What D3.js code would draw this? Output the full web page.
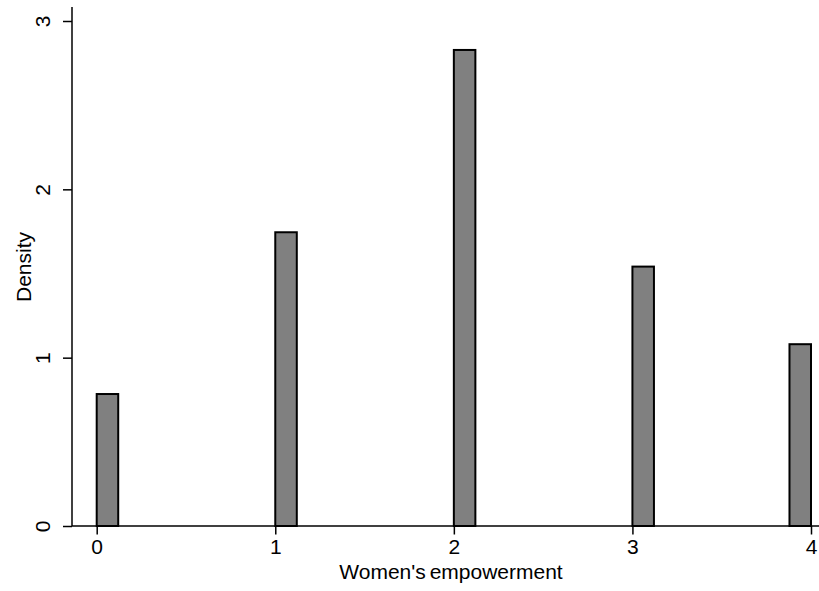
<!DOCTYPE html>
<html>
<head>
<meta charset="utf-8">
<script src="https://cdn.jsdelivr.net/npm/d3@7"></script>
<style>
  html, body { margin: 0; padding: 0; background: #fff; }
  svg { display: block; }
  text { font-family: "Liberation Sans", Arial, Helvetica, sans-serif; fill: #000; }
</style>
</head>
<body>
<svg id="chart" width="819" height="591"></svg>
<script>
// Data
const binStarts = [0, 1, 2, 3, 3.8795];
const densities = [0.784, 1.745, 2.828, 1.541, 1.080];
const binWidth = 0.1205;
const xTicks = [0, 1, 2, 3, 4];
const yTicks = [0, 1, 2, 3];
const xTitle = "Women's empowerment";
const yTitle = "Density";

const svg = d3.select("#chart");
const W = 819, H = 591;
const FS = 21;

const x = d3.scaleLinear().domain([0, 4]).range([96.7, 811]);
const y = d3.scaleLinear().domain([0, 3]).range([526, 21]);

const axisLeftX = 72, axisBottomY = 526;

// Bars
const bins = binStarts.map((s, i) => ({ x0: s, x1: s + binWidth, v: densities[i] }));
svg.append("g").selectAll("rect").data(bins).join("rect")
  .attr("x", d => x(d.x0))
  .attr("y", d => y(d.v))
  .attr("width", d => x(d.x1) - x(d.x0))
  .attr("height", d => y(0) - y(d.v))
  .attr("fill", "#808080")
  .attr("stroke", "#000")
  .attr("stroke-width", 2);

// X axis
const gx = svg.append("g").attr("transform", `translate(0,${axisBottomY})`);
gx.call(d3.axisBottom(x).tickValues(xTicks).tickFormat(d3.format("d")).tickSize(8.5).tickPadding(5));
gx.select(".domain").remove();
gx.selectAll(".tick line").attr("stroke", "#000").attr("stroke-width", 1.5);
gx.selectAll(".tick text").attr("font-size", FS).attr("font-family", "Liberation Sans, Arial, sans-serif").attr("fill", "#000");
gx.append("line").attr("x1", axisLeftX).attr("x2", W).attr("y1", 0).attr("y2", 0)
  .attr("stroke", "#000").attr("stroke-width", 1.5);

// Y axis
const gy = svg.append("g").attr("transform", `translate(${axisLeftX},0)`);
gy.call(d3.axisLeft(y).tickValues(yTicks).tickFormat(d3.format("d")).tickSize(9).tickPadding(0));
gy.select(".domain").remove();
gy.selectAll(".tick line").attr("stroke", "#000").attr("stroke-width", 1.5);
gy.selectAll(".tick text")
  .attr("font-size", FS)
  .attr("font-family", "Liberation Sans, Arial, sans-serif")
  .attr("fill", "#000")
  .attr("x", null).attr("dy", null)
  .attr("text-anchor", "middle")
  .attr("transform", "translate(-22,0) rotate(-90)");
gy.append("line").attr("x1", 0).attr("x2", 0).attr("y1", 7).attr("y2", axisBottomY)
  .attr("stroke", "#000").attr("stroke-width", 1.5);

// Titles
svg.append("text")
  .attr("x", 451).attr("y", 579)
  .attr("text-anchor", "middle")
  .attr("font-size", FS)
  .attr("word-spacing", -2)
  .text(xTitle);

svg.append("text")
  .attr("transform", `translate(31,267) rotate(-90)`)
  .attr("text-anchor", "middle")
  .attr("font-size", FS)
  .text(yTitle);
</script>
</body>
</html>
